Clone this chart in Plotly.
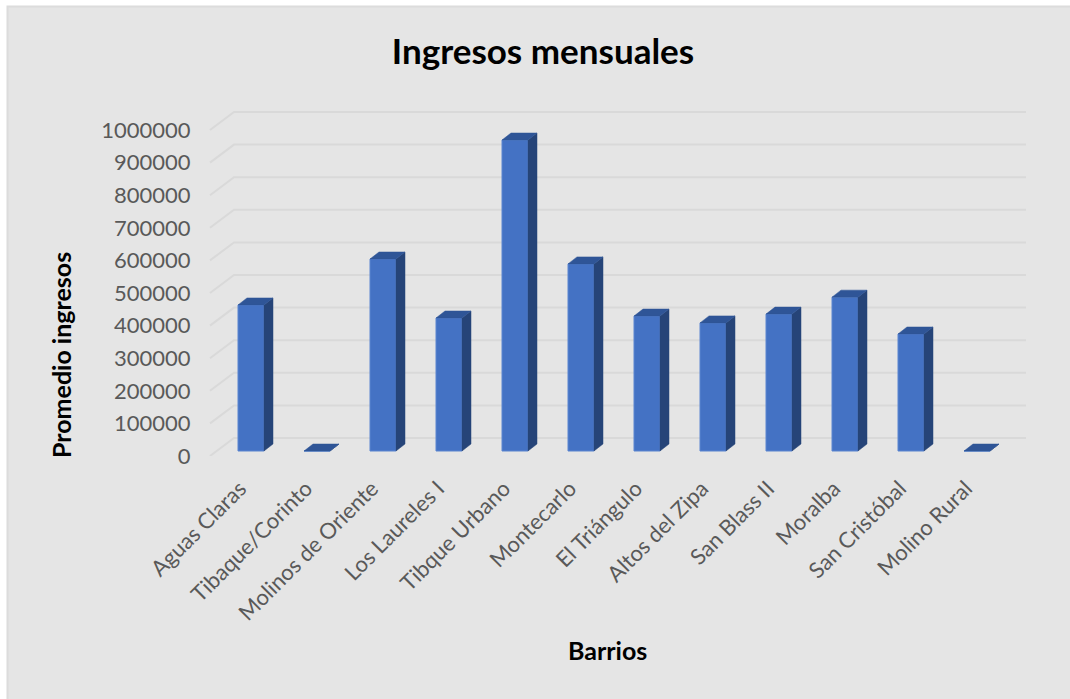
import plotly.graph_objects as go

barrios = ["Aguas Claras", "Tibaque/Corinto", "Molinos de Oriente", "Los Laureles I",
           "Tibque Urbano", "Montecarlo", "El Triángulo", "Altos del Zipa",
           "San Blass II", "Moralba", "San Cristóbal", "Molino Rural"]
ingresos = [448000, 0, 589000, 408000, 954000, 574000, 414000, 393000, 420000, 472000, 359000, 0]
y_ticks = [0, 100000, 200000, 300000, 400000, 500000, 600000, 700000, 800000, 900000, 1000000]

W, H = 1070, 699
FONT = "Lato, Carlito, Calibri, sans-serif"
PX_Y = 1000000 / 326      # value units per pixel
PX_X = 1 / 66             # category units per pixel
X_LEFT, X_RIGHT, Y_TOP, Y_BOTTOM = 200, 1040, 90, 456
BAR0_PX = 251             # pixel of first category centre
BAR_W = 26 * PX_X
DX, DY = 9 * PX_X, 7 * PX_Y           # bar depth
WALL_DX, WALL_DY = 24 * PX_X, 18 * PX_Y  # wall depth
FRONT_X = (210 - BAR0_PX) * PX_X
BACK_X = FRONT_X + WALL_DX
END_X = (1026 - BAR0_PX) * PX_X

idx = list(range(len(barrios)))

# wall grid lines
gx, gy = [], []
for v in y_ticks:
    gx += [FRONT_X, BACK_X, END_X, None]
    gy += [v, v + WALL_DY, v + WALL_DY, None]

# side and top faces of the bars
sx, sy, tx, ty = [], [], [], []
for i, v in zip(idx, ingresos):
    r = i + BAR_W / 2
    l = i - BAR_W / 2
    sx += [r, r + DX, r + DX, r, r, None]
    sy += [0, DY, v + DY, v, 0, None]
    tx += [l, l + DX, r + DX, r, l, None]
    ty += [v, v + DY, v + DY, v, v, None]

fig = go.Figure()
fig.add_trace(go.Scatter(x=gx, y=gy, mode="lines", line=dict(color="#d9d9d9", width=2),
                         cliponaxis=False, hoverinfo="skip", showlegend=False, yaxis="y"))
fig.add_trace(go.Bar(x=idx, y=ingresos, width=BAR_W, yaxis="y2", showlegend=False,
                     marker=dict(color="#4472c4", line=dict(color="#5b85d0", width=1))))
fig.add_trace(go.Scatter(x=sx, y=sy, mode="lines", fill="toself", fillcolor="#264478",
                         line=dict(color="#264478", width=0.5), yaxis="y2",
                         hoverinfo="skip", showlegend=False))
fig.add_trace(go.Scatter(x=tx, y=ty, mode="lines", fill="toself", fillcolor="#2f5597",
                         line=dict(color="#2f5597", width=0.5), yaxis="y2",
                         hoverinfo="skip", showlegend=False))

y_span = (Y_BOTTOM - Y_TOP) * PX_Y
fig.update_layout(
    width=W, height=H, margin=dict(l=0, r=0, t=0, b=0, autoexpand=False),
    paper_bgcolor="white", plot_bgcolor="rgba(0,0,0,0)",
    font=dict(family=FONT, color="#595959", size=22),
    barmode="overlay",
    title=dict(text="<b>Ingresos mensuales</b>", x=543 / W, xanchor="center", y=1 - 52 / H,
               yanchor="middle", font=dict(size=35, color="black", family=FONT)),
    xaxis=dict(domain=[X_LEFT / W, X_RIGHT / W], type="linear", automargin=False,
               range=[(X_LEFT - BAR0_PX) * PX_X, (X_RIGHT - BAR0_PX) * PX_X],
               tickmode="array", tickvals=idx, ticktext=barrios, tickangle=-45,
               ticks="outside", ticklen=10, tickcolor="rgba(0,0,0,0)",
               ticklabelshift=-11,
               showgrid=False, zeroline=False, showline=False,
               tickfont=dict(size=22, color="#595959")),
    yaxis=dict(domain=[1 - Y_BOTTOM / H, 1 - Y_TOP / H], range=[0, y_span], automargin=False,
               tickmode="array", tickvals=y_ticks, ticktext=[str(v) for v in y_ticks],
               showgrid=False, zeroline=False, showline=False,
               ticks="outside", ticklen=4, tickcolor="rgba(0,0,0,0)",
               tickfont=dict(size=22, color="#595959")),
    yaxis2=dict(overlaying="y", range=[-5 * PX_Y, y_span - 5 * PX_Y], visible=False,
                automargin=False),
    shapes=[dict(type="rect", xref="paper", yref="paper", layer="below",
                 x0=7.5 / W, x1=1 + 5 / W, y0=-5 / H, y1=1 - 6.5 / H,
                 fillcolor="#e5e5e5", line=dict(color="#dcdcdc", width=2))],
    annotations=[
        dict(text="<b>Promedio ingresos</b>", xref="paper", yref="paper", x=61 / W, y=1 - 355 / H,
             textangle=-90, showarrow=False, font=dict(size=25, color="black", family=FONT),
             xanchor="center", yanchor="middle"),
        dict(text="<b>Barrios</b>", xref="paper", yref="paper", x=607 / W, y=1 - 650 / H,
             showarrow=False, font=dict(size=25, color="black", family=FONT),
             xanchor="center", yanchor="middle"),
    ],
)

fig.write_html("out.html", config=dict(displayModeBar=False),
               post_script="document.body.style.margin='0';document.body.style.overflow='hidden';")
